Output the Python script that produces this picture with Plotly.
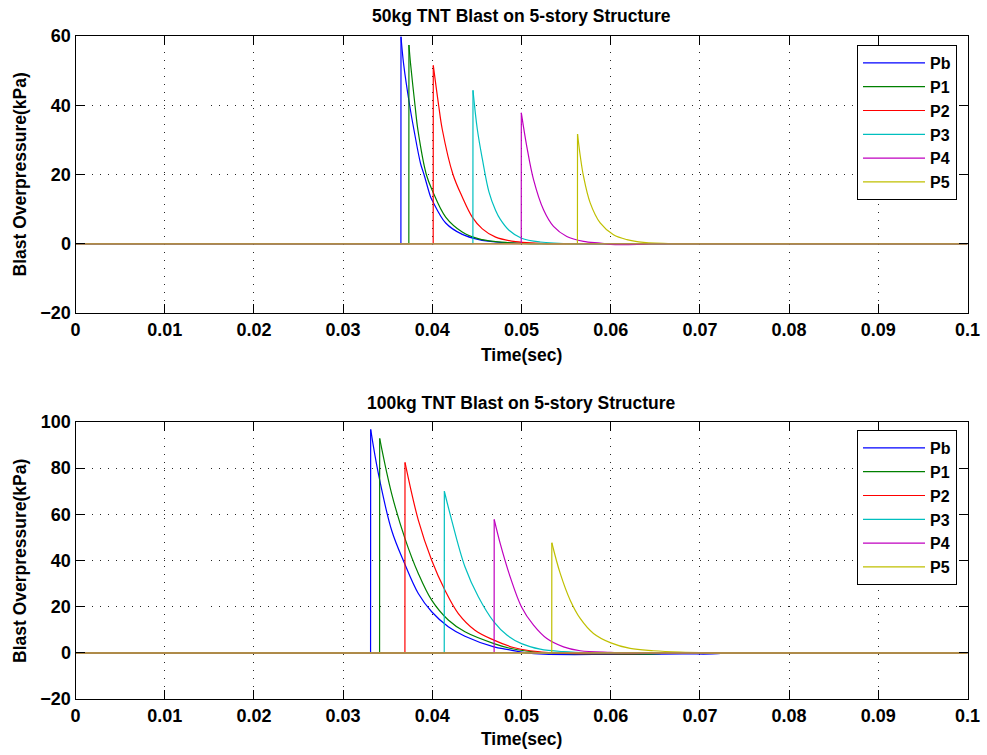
import plotly.graph_objects as go

# ---------------- data ----------------
series_names = ["Pb", "P1", "P2", "P3", "P4", "P5"]
series_colors = ["#0000FF", "#008000", "#FF0000", "#00BFBF", "#BF00BF", "#BFBF00"]

x_tick_vals = [0, 0.01, 0.02, 0.03, 0.04, 0.05, 0.06, 0.07, 0.08, 0.09, 0.1]
x_tick_text = ["0", "0.01", "0.02", "0.03", "0.04", "0.05", "0.06", "0.07", "0.08", "0.09", "0.1"]
y_ticks_top = [-20, 0, 20, 40, 60]
y_ticks_bottom = [-20, 0, 20, 40, 60, 80, 100]

# 50 kg TNT  (first three points: rise; then decay; last point closes the record)
t50_Pb = [0, 0.03648, 0.03649, 0.03679, 0.03746, 0.03795, 0.03869, 0.03907, 0.03981, 0.04000, 0.04150, 0.04336, 0.04523, 0.04710, 0.04897, 0.0520, 0.1]
p50_Pb = [0, 0, 59.8, 51.8, 40.0, 32.8, 23.1, 20.0, 13.5, 12.5, 6.0, 2.7, 1.2, 0.5, 0.2, 0, 0]
t50_P1 = [0, 0.03737, 0.03738, 0.03757, 0.03806, 0.03839, 0.03933, 0.04000, 0.04150, 0.04336, 0.04523, 0.04710, 0.04897, 0.0520, 0.1]
p50_P1 = [0, 0, 57.4, 51.8, 40.0, 32.8, 20.0, 15.4, 7.7, 3.4, 1.4, 0.6, 0.25, 0, 0]
t50_P2 = [0, 0.04010, 0.04011, 0.04071, 0.04112, 0.04232, 0.04336, 0.04448, 0.04561, 0.04710, 0.04934, 0.05158, 0.0550, 0.1]
p50_P2 = [0, 0, 51.5, 40.0, 33.0, 20.0, 13.5, 7.7, 4.3, 1.9, 0.6, 0.2, 0, 0]
t50_P3 = [0, 0.04455, 0.04456, 0.04505, 0.04561, 0.04635, 0.04710, 0.04761, 0.04860, 0.05000, 0.05209, 0.0560, 0.1]
p50_P3 = [0, 0, 44.3, 33.0, 24.5, 15.0, 9.6, 7.1, 3.9, 1.6, 0.5, 0, 0]
t50_P4 = [0, 0.04997, 0.04998, 0.05060, 0.05135, 0.05247, 0.05359, 0.05508, 0.05695, 0.05882, 0.0600, 0.0630, 0.0645, 0.1]
p50_P4 = [0, 0, 37.8, 28.0, 18.5, 9.8, 5.0, 2.1, 0.7, 0.2, -0.2, -0.2, 0, 0]
t50_P5 = [0, 0.05627, 0.05628, 0.05658, 0.05695, 0.05770, 0.05882, 0.06031, 0.06181, 0.06368, 0.0670, 0.1]
p50_P5 = [0, 0, 31.7, 25.5, 19.5, 11.8, 6.0, 2.6, 1.2, 0.4, 0, 0]

# 100 kg TNT
t100_Pb = [0, 0.03308, 0.03309, 0.03395, 0.03544, 0.03686, 0.03843, 0.03993, 0.04179, 0.04366, 0.04691, 0.04837, 0.0505, 0.0525, 0.0600, 0.0680, 0.0720, 0.0727, 0.1]
p100_Pb = [0, 0, 96.8, 77.7, 53.1, 39.0, 25.7, 17.8, 11.3, 7.2, 2.6, 1.5, 0, -0.6, -0.7, -0.5, -0.4, 0, 0]
t100_P1 = [0, 0.03409, 0.03410, 0.03544, 0.03694, 0.03843, 0.03993, 0.04179, 0.04366, 0.04691, 0.0487, 0.0505, 0.0530, 0.0600, 0.0650, 0.0660, 0.1]
p100_P1 = [0, 0, 92.9, 69.0, 49.5, 34.4, 22.8, 14.2, 9.1, 4.0, 2.0, 0.8, 0, -0.5, -0.5, 0, 0]
t100_P2 = [0, 0.03693, 0.03694, 0.03843, 0.03993, 0.04142, 0.04292, 0.04478, 0.04691, 0.04910, 0.05097, 0.0540, 0.0600, 0.0660, 0.1]
p100_P2 = [0, 0, 82.5, 57.5, 40.1, 27.1, 17.0, 9.8, 5.5, 2.3, 0.9, 0, -0.4, 0, 0]
t100_P3 = [0, 0.04134, 0.04135, 0.04217, 0.04366, 0.04516, 0.04691, 0.04836, 0.05000, 0.05209, 0.05471, 0.0580, 0.1]
p100_P3 = [0, 0, 70.0, 57.5, 37.3, 24.3, 13.4, 7.7, 4.0, 1.6, 0.5, 0, 0]
t100_P4 = [0, 0.04693, 0.04694, 0.04761, 0.04873, 0.05000, 0.05135, 0.05284, 0.05471, 0.05658, 0.0600, 0.0620, 0.1]
p100_P4 = [0, 0, 57.8, 47.4, 32.9, 19.9, 12.0, 6.2, 2.6, 0.9, 0.2, 0, 0]
t100_P5 = [0, 0.05339, 0.05340, 0.05434, 0.05546, 0.05658, 0.05807, 0.06002, 0.06218, 0.06480, 0.06779, 0.0710, 0.1]
p100_P5 = [0, 0, 47.7, 34.4, 22.8, 14.9, 8.4, 4.3, 1.9, 0.9, 0.3, 0, 0]

baseline_t = [0, 0.1]
baseline_p = [0, 0]

data50 = [(t50_Pb, p50_Pb), (t50_P1, p50_P1), (t50_P2, p50_P2),
          (t50_P3, p50_P3), (t50_P4, p50_P4), (t50_P5, p50_P5)]
data100 = [(t100_Pb, p100_Pb), (t100_P1, p100_P1), (t100_P2, p100_P2),
           (t100_P3, p100_P3), (t100_P4, p100_P4), (t100_P5, p100_P5)]

title_top = "50kg TNT Blast on 5-story Structure"
title_bottom = "100kg TNT Blast on 5-story Structure"
x_label = "Time(sec)"
y_label = "Blast Overpressure(kPa)"

# ---------------- figure ----------------
W, H = 987, 755
FONT = "Liberation Sans, Arial, Helvetica, sans-serif"
TICK_FS = 18
LABEL_FS = 17.5
LEG_FS = 16
BASE_COL = "#B08C48"

fig = go.Figure()


def add_series(data, xa, ya, leg, group_prefix):
    for (t, p), name, col in zip(data, series_names, series_colors):
        grp = group_prefix + name
        # sharp rise (straight)
        fig.add_trace(go.Scatter(x=t[:3], y=p[:3], mode="lines", name=name,
                                 line=dict(color=col, width=1.2),
                                 legendgroup=grp, xaxis=xa, yaxis=ya, legend=leg))
        # smooth decay
        fig.add_trace(go.Scatter(x=t[2:-1], y=p[2:-1], mode="lines", name=name,
                                 line=dict(color=col, width=1.2, shape="spline", smoothing=1.0),
                                 legendgroup=grp, showlegend=False, xaxis=xa, yaxis=ya))
        # trailing zero record
        fig.add_trace(go.Scatter(x=t[-2:], y=p[-2:], mode="lines", name=name,
                                 line=dict(color=col, width=1.2),
                                 legendgroup=grp, showlegend=False, xaxis=xa, yaxis=ya))
    fig.add_trace(go.Scatter(x=baseline_t, y=baseline_p, mode="lines", showlegend=False,
                             line=dict(color=BASE_COL, width=1.6), xaxis=xa, yaxis=ya))


add_series(data50, "x", "y", "legend", "a")
add_series(data100, "x2", "y2", "legend2", "b")

xdom = [75.5 / W, 967.5 / W]
ydom_top = [1 - 313 / H, 1 - 36 / H]
ydom_bot = [1 - 699 / H, 1 - 422 / H]

axis_common = dict(showline=True, linecolor="black", linewidth=1, mirror="ticks",
                   ticks="inside", ticklen=9, tickcolor="black", tickwidth=1,
                   showgrid=True, gridcolor="rgba(0,0,0,0.85)", gridwidth=1,
                   griddash="1px,7px", zeroline=False, automargin=False,
                   tickfont=dict(family=FONT, size=TICK_FS, color="black", weight="bold"))

leg_common = dict(xanchor="left", yanchor="top", bgcolor="white", bordercolor="black",
                  borderwidth=1, font=dict(family=FONT, size=LEG_FS, color="black", weight="bold"),
                  itemwidth=62, tracegroupgap=0)

fig.update_layout(
    template="none",
    width=W, height=H, autosize=False,
    margin=dict(l=0, r=0, t=0, b=0, autoexpand=False),
    paper_bgcolor="white", plot_bgcolor="white",
    xaxis=dict(domain=xdom, anchor="y", range=[0, 0.1], tickvals=x_tick_vals,
               ticktext=x_tick_text, **axis_common),
    yaxis=dict(domain=ydom_top, anchor="x", range=[-20, 60], tickvals=y_ticks_top, **axis_common),
    xaxis2=dict(domain=xdom, anchor="y2", range=[0, 0.1], tickvals=x_tick_vals,
                ticktext=x_tick_text, **axis_common),
    yaxis2=dict(domain=ydom_bot, anchor="x2", range=[-20, 100], tickvals=y_ticks_bottom, **axis_common),
    legend=dict(x=857 / W, y=1 - 45 / H, **leg_common),
    legend2=dict(x=857 / W, y=1 - 430 / H, **leg_common),
    showlegend=True,
)

tf = dict(family=FONT, size=LABEL_FS, color="black", weight="bold")
xc = (xdom[0] + xdom[1]) / 2
annots = [
    dict(text=title_top, x=xc, y=1 - 16 / H),
    dict(text=title_bottom, x=xc, y=1 - 403 / H),
    dict(text=x_label, x=xc, y=1 - 355 / H),
    dict(text=x_label, x=xc, y=1 - 739 / H),
    dict(text=y_label, x=19.5 / W, y=1 - 175 / H, textangle=-90),
    dict(text=y_label, x=19.5 / W, y=1 - 561.5 / H, textangle=-90),
]
for a in annots:
    fig.add_annotation(xref="paper", yref="paper", showarrow=False,
                       xanchor="center", yanchor="middle", font=tf, **a)

fig.write_html("out.html")
